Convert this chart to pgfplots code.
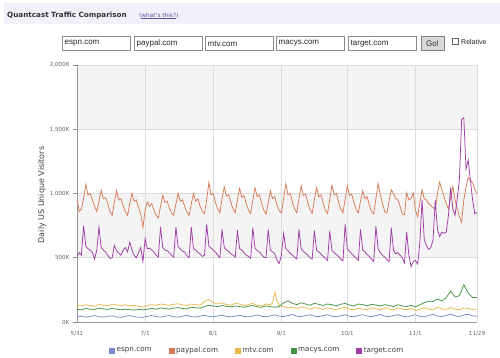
\documentclass[border=0pt]{standalone}
\usepackage{pgfplots}
\pgfplotsset{compat=1.18}
\usepackage{fontspec}
\setmainfont{DejaVu Sans}
\newfontfamily\arialfont{Liberation Sans}
\definecolor{cEspn}{HTML}{7A8AC8}
\definecolor{cPaypal}{HTML}{D77A55}
\definecolor{cMtv}{HTML}{E8B84A}
\definecolor{cMacys}{HTML}{439443}
\definecolor{cTarget}{HTML}{A03CA8}
\definecolor{band}{HTML}{F4F4F4}
\definecolor{gridc}{HTML}{DCDCDC}
\definecolor{header}{HTML}{F2F0F9}
\definecolor{linkc}{HTML}{5B4FA0}
\begin{document}
\begin{tikzpicture}
\begin{scope}[x=1bp,y=1bp]
\path[use as bounding box, fill=white] (0,0) rectangle (500,357);
\fill[header] (4,333) rectangle (500,354);
\node[anchor=base west, inner sep=0, font=\fontsize{7.2bp}{8bp}\selectfont\bfseries, text=black!80] at (7,340) {Quantcast Traffic Comparison};
\node[anchor=base west, inner sep=0, font=\fontsize{5.8bp}{7bp}\selectfont, text=linkc] at (139,340) {(\underline{what's this?})};
\foreach \xx/\t in {62/espn.com,134/paypal.com,205/mtv.com,276/macys.com,348/target.com}{
  \draw[black!45, fill=white, line width=0.6bp] (\xx,307) rectangle ++(68.5,14);
  \node[anchor=west, inner sep=0, font=\arialfont\fontsize{8bp}{9bp}\selectfont, text=black!85] at (\xx+2.5,313.5) {\t};
}
\draw[black!50, fill=black!15, line width=0.6bp] (421,307) rectangle (444,321);
\node[inner sep=0, font=\arialfont\fontsize{8bp}{9bp}\selectfont, text=black!85] at (432.5,313.5) {Go!};
\draw[black!60, fill=white, line width=0.5bp] (452,313) rectangle (458,319);
\node[anchor=west, inner sep=0, font=\arialfont\fontsize{7bp}{8bp}\selectfont, text=black!85] at (461,315) {Relative};
% alternating background bands of the plot area (500K-1000K and 1500K-2000K)
\fill[band] (77,99.25) rectangle (477,163.5);
\fill[band] (77,227.75) rectangle (477,292);
\end{scope}
\begin{axis}[
  at={(77bp,35bp)}, anchor=south west,
  scale only axis, width=400bp, height=257bp,
  xmin=0, xmax=182, ymin=0, ymax=2000,
  axis x line*=bottom, axis y line*=left,
  xtick={0,31,62,93,123,154,182},
  xticklabels={5/31,7/1,8/1,9/1,10/1,11/1,11/29},
  ytick={0,500,1000,1500,2000},
  yticklabels={0K,500K,{1,000K},{1,500K},{2,000K}},
  xmajorgrids, ymajorgrids,
  grid style={gridc, line width=0.6bp},
  axis line style={black!40, line width=0.8bp, -},
  tick style={black!45, line width=0.6bp},
  tick align=outside, major tick length=4bp,
  x tick style={draw=none},
  ticklabel style={font=\fontsize{5.6bp}{6bp}\selectfont, text=black!60},
  xticklabel style={yshift=-2bp},
  ylabel={Daily US Unique Visitors},
  ylabel style={at={(axis description cs:-0.0875,0.494)}, anchor=center, font=\fontsize{8bp}{9bp}\selectfont, text=black!75},
  every axis plot/.append style={line width=0.75bp, mark=none},
  legend columns=5,
  legend cell align=left,
  legend image code/.code={\draw[#1, fill, line width=0.5bp] (0bp,-2.5bp) rectangle (5bp,2.5bp);},
  legend style={at={(axis description cs:0.08,-0.111)}, anchor=west, draw=none, fill=none, inner sep=0pt,
    font=\fontsize{7.2bp}{8bp}\selectfont, text=black!75,
    /tikz/every even column/.append style={column sep=15bp}},
]
% espn.com
\addplot[cEspn] coordinates {
(0,40)(2,45)(4,38)(6,42)(8,50)(10,42)(12,38)(14,44)(16,48)(18,40)(20,37)(22,45)(24,50)(26,41)(28,38)(30,36)
(32,44)(34,50)(36,42)(38,38)(40,45)(42,50)(44,41)(46,38)(48,46)(50,52)(52,42)(54,39)(56,46)(58,52)(60,44)(62,40)
(64,47)(66,53)(68,44)(70,40)(72,46)(74,52)(76,43)(78,40)(80,47)(82,55)(84,45)(86,40)(88,48)(90,56)(92,46)(94,42)
(96,50)(98,58)(100,46)(102,42)(104,50)(106,57)(108,45)(110,42)(112,50)(114,56)(116,45)(118,41)(120,49)(122,56)
(124,45)(126,41)(128,50)(130,57)(132,46)(134,42)(136,50)(138,58)(140,46)(142,42)(144,50)(146,57)(148,45)(150,40)
(152,48)(154,56)(156,44)(158,40)(160,50)(162,60)(164,47)(166,42)(168,52)(170,62)(172,48)(174,43)(176,55)(178,60)
(180,48)(182,45)};
\addlegendentry{espn.com}
% paypal.com
\addplot[cPaypal] coordinates {
(0,955)(1,860)(2,880)(3,960)
(4,1070)(5,990)(6,1000)(7,950)(8,900)(9,860)(10,940)
(11,1025)(12,960)(13,970)(14,920)(15,860)(16,830)(17,930)
(18,1020)(19,950)(20,960)(21,905)(22,860)(23,830)(24,920)
(25,1000)(26,940)(27,950)(28,890)(29,840)(30,735)(31,870)
(32,935)(33,900)(34,920)(35,870)(36,830)(37,810)(38,900)
(39,985)(40,930)(41,940)(42,890)(43,850)(44,830)(45,920)
(46,1000)(47,940)(48,950)(49,900)(50,855)(51,830)(52,920)
(53,1000)(54,940)(55,960)(56,900)(57,860)(58,845)(59,950)
(60,1085)(61,990)(62,1000)(63,930)(64,880)(65,850)(66,960)
(67,1050)(68,980)(69,990)(70,930)(71,880)(72,850)(73,950)
(74,1040)(75,970)(76,985)(77,920)(78,870)(79,845)(80,945)
(81,1045)(82,975)(83,990)(84,925)(85,870)(86,840)(87,930)
(88,1020)(89,960)(90,975)(91,910)(92,865)(93,850)(94,960)
(95,1075)(96,990)(97,1000)(98,935)(99,880)(100,850)(101,960)
(102,1060)(103,985)(104,995)(105,930)(106,875)(107,845)(108,950)
(109,1045)(110,975)(111,990)(112,925)(113,870)(114,845)(115,955)
(116,1065)(117,990)(118,1000)(119,935)(120,880)(121,850)(122,955)
(123,1060)(124,985)(125,995)(126,930)(127,875)(128,850)(129,940)
(130,1020)(131,960)(132,975)(133,910)(134,860)(135,840)(136,960)
(137,1080)(138,990)(139,920)(140,860)(141,850)(142,940)(143,1030)
(144,1000)(145,960)(146,950)(147,900)(148,840)(149,835)(150,1005)
(151,950)(152,960)(153,1005)(154,870)(155,820)(156,930)(157,1030)
(158,960)(159,950)(160,920)(161,905)(162,890)(163,877)(164,1000)
(165,1090)(166,1030)(167,975)(168,920)(169,877)(170,970)(171,1055)
(172,950)(173,880)(174,820)(175,775)(176,950)(177,1050)(178,1125)
(179,1100)(180,1085)(181,1030)(182,1000)};
\addlegendentry{paypal.com}
% mtv.com
\addplot[cMtv] coordinates {
(0,130)(2,125)(4,135)(6,128)(8,122)(10,138)(12,130)(14,125)(16,140)(18,132)(20,128)(22,135)(24,125)(26,130)
(28,122)(30,115)(32,128)(34,135)(36,130)(38,140)(40,135)(42,130)(44,138)(46,142)(48,132)(50,128)(52,140)
(54,135)(56,130)(58,160)(60,175)(62,150)(64,140)(66,150)(68,135)(70,130)(72,145)(74,140)(76,128)(78,135)
(80,145)(82,130)(84,125)(86,140)(88,135)(89,150)(90,230)(91,160)(92,130)(94,120)(96,110)(98,115)(100,105)
(102,118)(104,110)(106,100)(108,112)(110,105)(112,98)(114,110)(116,102)(118,95)(120,108)(122,115)(124,100)
(126,95)(128,108)(130,100)(132,95)(134,110)(136,103)(138,96)(140,112)(142,100)(144,95)(146,110)(148,100)
(150,95)(152,108)(154,90)(156,100)(158,112)(160,100)(162,95)(164,115)(166,102)(168,98)(170,112)(172,100)
(174,95)(176,110)(178,105)(180,98)(182,100)};
\addlegendentry{mtv.com}
% macys.com
\addplot[cMacys] coordinates {
(0,100)(2,95)(4,105)(6,100)(8,98)(10,108)(12,102)(14,98)(16,105)(18,100)(20,95)(22,100)(24,96)(26,92)
(28,98)(30,95)(32,100)(34,105)(36,100)(38,110)(40,105)(42,100)(44,108)(46,112)(48,105)(50,102)(52,115)
(54,110)(56,108)(58,120)(60,130)(62,125)(64,120)(66,128)(68,122)(70,118)(72,125)(74,120)(76,115)(78,122)
(80,128)(82,118)(84,115)(86,125)(88,120)(90,115)(92,120)(94,150)(96,165)(98,145)(100,135)(102,150)(104,140)
(106,130)(108,145)(110,138)(112,128)(114,140)(116,135)(118,125)(120,138)(122,145)(124,132)(126,125)(128,140)
(130,135)(132,125)(134,138)(136,132)(138,125)(140,135)(142,128)(144,120)(146,135)(148,125)(150,120)(152,130)
(154,118)(156,135)(158,150)(160,162)(162,160)(164,178)(166,165)(168,190)(170,240)(172,195)(174,205)(176,290)
(178,225)(180,190)(182,190)};
\addlegendentry{macys.com}
% target.com
\addplot[cTarget] coordinates {
(0,510)(1,540)(2,520)(3,750)(4,590)(5,570)(6,560)(7,540)(8,490)(9,560)
(10,740)(11,580)(12,560)(13,545)(14,520)(15,495)(16,500)(17,595)(18,555)(19,535)
(20,520)(21,560)(22,580)(23,545)(24,620)(25,560)(26,520)(27,500)(28,540)(29,580)
(30,470)(31,650)(32,570)(33,575)(34,560)(35,545)(36,520)(37,505)(38,740)(39,580)
(40,560)(41,555)(42,540)(43,520)(44,505)(45,740)(46,585)(47,570)(48,550)(49,545)
(50,515)(51,500)(52,740)(53,570)(54,560)(55,540)(56,530)(57,510)(58,520)(59,760)
(60,590)(61,575)(62,560)(63,545)(64,520)(65,500)(66,720)(67,580)(68,560)(69,550)
(70,530)(71,520)(72,505)(73,715)(74,570)(75,560)(76,540)(77,520)(78,510)(79,495)
(80,735)(81,575)(82,555)(83,545)(84,525)(85,505)(86,500)(87,720)(88,560)(89,545)
(90,530)(91,480)(92,455)(93,520)(94,690)(95,570)(96,555)(97,535)(98,520)(99,505)
(100,490)(101,720)(102,570)(103,550)(104,535)(105,520)(106,500)(107,490)(108,710)(109,560)
(110,545)(111,530)(112,510)(113,495)(114,480)(115,710)(116,555)(117,540)(118,525)(119,510)
(120,490)(121,475)(122,760)(123,570)(124,550)(125,530)(126,515)(127,495)(128,480)(129,720)
(130,560)(131,545)(132,525)(133,510)(134,490)(135,470)(136,745)(137,570)(138,540)(139,520)
(140,505)(141,485)(142,470)(143,735)(144,560)(145,530)(146,540)(147,520)(148,500)(149,460)
(150,700)(151,520)(152,430)(153,470)(154,480)(155,450)(156,620)(157,950)(158,640)(159,595)
(160,565)(161,580)(162,640)(163,950)(164,720)(165,665)(166,700)(167,690)(168,700)(169,830)
(170,1045)(171,880)(172,830)(173,960)(174,1110)(175,1575)(176,1590)(177,1190)(178,1260)(179,1100)
(180,950)(181,840)(182,855)};
\addlegendentry{target.com}
\end{axis}
\end{tikzpicture}
\end{document}
